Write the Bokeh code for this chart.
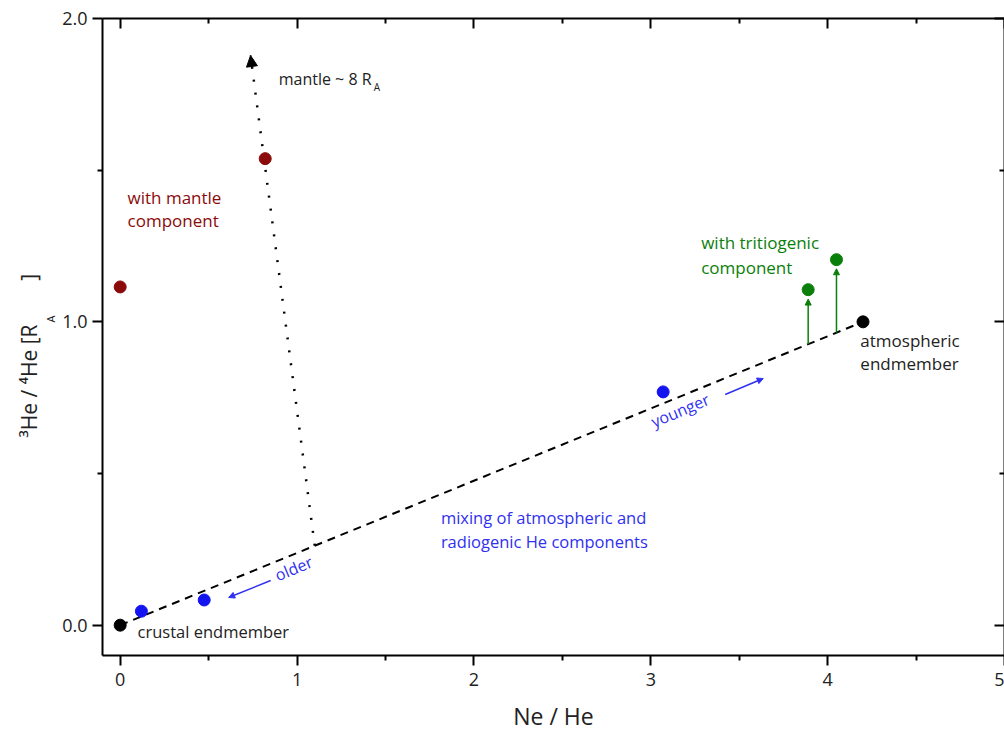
import math
from bokeh.plotting import figure
from bokeh.models import (Range1d, Label, Arrow, NormalHead, LinearAxis,
                          FixedTicker, NumeralTickFormatter, Title)
from bokeh.embed import file_html
from bokeh.resources import INLINE

# ---------------- data ----------------
endmember_x = [0.0, 4.2]
endmember_y = [0.0, 1.0]
radiogenic_x = [0.12, 0.475, 3.07]
radiogenic_y = [0.046, 0.083, 0.769]
mantle_x = [0.0, 0.82]
mantle_y = [1.115, 1.538]
tritium_x = [3.89, 4.05]
tritium_y = [1.106, 1.205]
tritium_arrow_tip_y = [1.075, 1.175]
mixing_line_x = [0.0, 4.2]
mixing_line_y = [0.0, 1.0]
mantle_trend_x = [1.1, 0.737]
mantle_trend_y = [0.262, 1.878]
x_ticks = [0, 1, 2, 3, 4, 5]
x_minor = [0.5, 1.5, 2.5, 3.5, 4.5]
y_ticks = [0.0, 1.0, 2.0]
y_minor = [0.5, 1.5]

# ---------------- styling ----------------
FONT = "Open Sans"
BLUE_DOT = "#1414f0"
BLUE_TXT = "#3030f0"
GREEN = "#0a800a"
DARKRED = "#8b0a0a"
INK = "#222222"

X0, X1, Y0, Y1 = -0.1, 5.0, -0.1, 2.0
L, R, T, B = 102, 1003, 18, 655

def X(px):
    return X0 + (px - L) / (R - L) * (X1 - X0)

def Y(py):
    return Y1 - (py - T) / (B - T) * (Y1 - Y0)

p = figure(width=1004, height=735, output_backend="svg", toolbar_location=None,
           x_range=Range1d(X0, X1), y_range=Range1d(Y0, Y1),
           x_axis_location=None, y_axis_location=None,
           min_border_left=L, min_border_right=0, min_border_top=T,
           min_border_bottom=735 - B)
p.grid.visible = False
p.outline_line_color = None
p.background_fill_color = "white"
p.border_fill_color = "white"


def style_axis(ax, tin, tout, mtin, mtout, labels=True):
    ax.axis_line_width = 2
    ax.axis_line_color = "black"
    ax.major_tick_line_width = 2
    ax.minor_tick_line_width = 2
    ax.major_tick_line_color = "black"
    ax.minor_tick_line_color = "black"
    ax.major_tick_in = tin
    ax.major_tick_out = tout
    ax.minor_tick_in = mtin
    ax.minor_tick_out = mtout
    ax.major_label_text_font = FONT
    ax.major_label_text_font_size = "18px"
    ax.major_label_text_color = INK
    if not labels:
        ax.major_label_text_font_size = "0px"
        ax.major_label_standoff = 0
        ax.major_label_overrides = {t: "" for t in ax.ticker.ticks}


bottom = LinearAxis(ticker=FixedTicker(ticks=x_ticks, minor_ticks=x_minor))
style_axis(bottom, 0, 10, 0, 5)
bottom.major_label_standoff = 7
bottom.axis_label = "Ne / He"
bottom.axis_label_text_font = FONT
bottom.axis_label_text_font_size = "23px"
bottom.axis_label_text_font_style = "normal"
bottom.axis_label_text_color = INK
bottom.axis_label_text_line_height = 0.8
bottom.axis_label_standoff = 11

left = LinearAxis(ticker=FixedTicker(ticks=y_ticks, minor_ticks=y_minor),
                  formatter=NumeralTickFormatter(format="0.0"))
style_axis(left, 0, 10, 0, 5)
left.major_label_standoff = 5

top = LinearAxis(ticker=FixedTicker(ticks=x_ticks, minor_ticks=x_minor))
style_axis(top, 10, 0, 5, 0, labels=False)
right = LinearAxis(ticker=FixedTicker(ticks=y_ticks, minor_ticks=y_minor))
style_axis(right, 10, 0, 5, 0, labels=False)

p.add_layout(bottom, "below")
p.add_layout(left, "left")
p.add_layout(top, "above")
p.add_layout(right, "right")

# y axis title: subscript strip (next to the tick labels), then main strip
frame_bottom_to = lambda py: B - py
sub_title = Title(text="A", text_font=FONT, text_font_size="11px",
                  text_font_style="normal", text_color=INK, align="left",
                  offset=frame_bottom_to(322), standoff=0, vertical_align="top")
main_title = Title(text="\u00b3He / \u2074He [R\u00a0\u00a0\u00a0\u00a0\u00a0\u00a0\u00a0\u00a0]",
                   text_font=FONT, text_font_size="21px", text_font_style="normal",
                   text_color=INK, align="left", offset=frame_bottom_to(437),
                   standoff=0, vertical_align="bottom", text_line_height=0.9)
p.add_layout(sub_title, "left")
p.add_layout(main_title, "left")

# ---------------- lines ----------------
p.line(mixing_line_x, mixing_line_y, line_color="black", line_width=2, line_dash="8 6")
p.line(mantle_trend_x, mantle_trend_y, line_color="black", line_width=2.5, line_dash="2 11")
p.add_layout(Arrow(end=NormalHead(size=11, fill_color="black", line_color="black"),
                   x_start=mantle_trend_x[0], y_start=mantle_trend_y[0],
                   x_end=mantle_trend_x[1], y_end=mantle_trend_y[1],
                   line_alpha=0))

# tritiogenic arrows (from the mixing line upward)
slope = mixing_line_y[1] / mixing_line_x[1]
for tx, ty in zip(tritium_x, tritium_arrow_tip_y):
    p.add_layout(Arrow(end=NormalHead(size=6, fill_color=GREEN, line_color=GREEN),
                       x_start=tx, y_start=tx * slope, x_end=tx, y_end=ty,
                       line_color=GREEN, line_width=1.5))

# older / younger arrows
p.add_layout(Arrow(end=NormalHead(size=6, fill_color=BLUE_TXT, line_color=BLUE_TXT),
                   x_start=X(270), y_start=Y(580), x_end=X(228), y_end=Y(597),
                   line_color=BLUE_TXT, line_width=1.5))
p.add_layout(Arrow(end=NormalHead(size=6, fill_color=BLUE_TXT, line_color=BLUE_TXT),
                   x_start=X(724), y_start=Y(394), x_end=X(762), y_end=Y(378),
                   line_color=BLUE_TXT, line_width=1.5))

# ---------------- points ----------------
p.scatter(endmember_x, endmember_y, size=12, color="black")
p.scatter(radiogenic_x, radiogenic_y, size=12, color=BLUE_DOT)
p.scatter(mantle_x, mantle_y, size=12, color=DARKRED)
p.scatter(tritium_x, tritium_y, size=12, color=GREEN)


# ---------------- texts ----------------
def lab(px, py, text, color=INK, size="16px", align="left", baseline="middle", angle=0.0):
    p.add_layout(Label(x=X(px), y=Y(py), text=text, text_font=FONT,
                       text_font_size=size, text_color=color, text_align=align,
                       text_baseline=baseline, angle=angle))

lab(278, 78, "mantle ~ 8 R", size="16px")
lab(373, 86, "A", size="10px")
lab(127, 197, "with mantle", color=DARKRED, size="17px")
lab(127, 220, "component", color=DARKRED, size="17px")
lab(700, 242, "with tritiogenic", color=GREEN, size="17px")
lab(700, 267, "component", color=GREEN, size="17px")
lab(859, 340, "atmospheric", size="17px")
lab(859, 363, "endmember", size="17px")
lab(137, 631, "crustal endmember", size="16.5px")
lab(440, 517, "mixing of atmospheric and", color=BLUE_TXT, size="16.5px")
lab(440, 541, "radiogenic He components", color=BLUE_TXT, size="16.5px")
lab(293, 568, "older", color=BLUE_TXT, align="center", angle=0.40)
lab(679, 410, "younger", color=BLUE_TXT, align="center", angle=0.40)

open("out.html", "w").write(file_html(p, INLINE))
